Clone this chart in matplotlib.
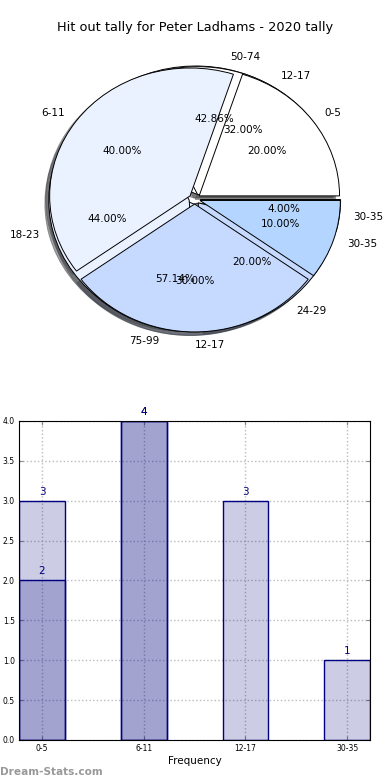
import matplotlib
matplotlib.use("Agg")
import matplotlib.pyplot as plt
import numpy as np

# pie data (three tallies drawn on top of each other)
ranges_a = ['0-5', '6-11', '12-17', '30-35']
counts_a = [2, 4, 3, 1]
ranges_b = ['12-17', '18-23', '24-29', '30-35']
counts_b = [8, 11, 5, 1]
ranges_c = ['50-74', '75-99']
counts_c = [3, 4]

# bar data
bar_labels = ['0-5', '6-11', '12-17', '30-35']
bar_first = [2, 4, 3, 1]
bar_second = [3, 4]

pie_colors = ['#ffffff', '#ebf2ff', '#c6d9ff', '#b3d5ff']

fig = plt.figure(figsize=(3.9, 7.8), dpi=100)

# pie chart
ax1 = fig.add_axes([0.049, 0.54, 0.90, 0.41])
for counts, labels in [(counts_c, ranges_c), (counts_b, ranges_b), (counts_a, ranges_a)]:
    ax1.pie(counts, labels=labels, colors=pie_colors[:len(counts)],
            explode=[0.04] * len(counts), autopct='%.2f%%', shadow=True,
            startangle=0, pctdistance=0.6, labeldistance=1.1,
            wedgeprops={'edgecolor': 'black', 'linewidth': 0.7},
            textprops={'fontsize': 7.5})
ax1.set_aspect('auto')
ax1.set_xlim(-1.25, 1.25)
ax1.set_ylim(-1.25, 1.25)
ax1.set_title('Hit out tally for Peter Ladhams - 2020 tally', fontsize=9.3, pad=6)

# bar chart
ax2 = fig.add_axes([0.049, 0.0513, 0.90, 0.409])
w = 0.45
x1 = np.arange(len(bar_first))
x2 = np.arange(len(bar_second))
ax2.bar(x1, bar_first, w, color='navy', alpha=0.2, edgecolor='none')
ax2.bar(x1, bar_first, w, facecolor='none', edgecolor='navy', linewidth=1)
ax2.bar(x2, bar_second, w, color='navy', alpha=0.2, edgecolor='none')
ax2.bar(x2, bar_second, w, facecolor='none', edgecolor='navy', linewidth=1)
for xs, vals in [(x1, bar_first), (x2, bar_second)]:
    for x, v in zip(xs, vals):
        ax2.text(x, v + 0.05, str(v), ha='center', va='bottom', color='navy', fontsize=7.5)
ax2.set_xlim(-w / 2, len(bar_first) - 1 + w / 2)
ax2.set_ylim(0, 4)
ax2.set_yticks(np.arange(0, 4.01, 0.5))
ax2.set_yticklabels(['%.1f' % v for v in np.arange(0, 4.01, 0.5)])
ax2.set_xticks(x1)
ax2.set_xticklabels(bar_labels)
ax2.tick_params(labelsize=5.5, direction='in', length=3, color='#888888',
                top=True, right=True, pad=3)
ax2.grid(True, linestyle=':', color='#bbbbbb', linewidth=1)
ax2.set_axisbelow(True)
ax2.set_xlabel('Frequency', fontsize=7.5, labelpad=2)

fig.text(0.0, 0.006, 'Dream-Stats.com', fontsize=7.6, color='#999999', fontweight='bold')

fig.savefig('out.png', dpi=100)
